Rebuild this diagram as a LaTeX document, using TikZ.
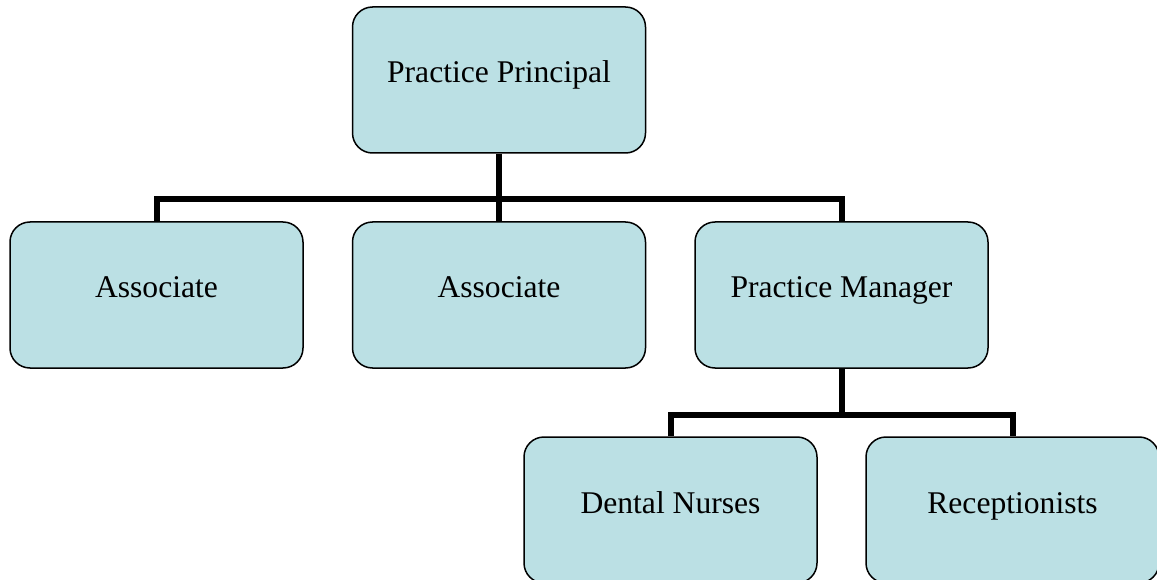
\documentclass[tikz,border=0pt]{standalone}
\usepackage{fontspec}
\setmainfont{Liberation Serif}
\definecolor{boxfill}{RGB}{187,224,228}
\begin{document}
\begin{tikzpicture}[x=1pt,y=-1pt,
  orgbox/.style={draw=black, line width=1.5pt, fill=boxfill, rounded corners=20pt,
    minimum width=293pt, minimum height=146pt, inner sep=0pt,
    text height=22pt, text depth=16pt, font=\fontsize{31.6pt}{36pt}\selectfont},
  conn/.style={line width=6pt, draw=black}]
\useasboundingbox (0,0) rectangle (1157,580);
\clip (0,0) rectangle (1157,580);
\node[orgbox] (pp) at (499,80) {Practice Principal};
\node[orgbox] (a1) at (156.5,295) {Associate};
\node[orgbox] (a2) at (499,295) {Associate};
\node[orgbox] (pm) at (841.5,295) {Practice Manager};
\node[orgbox] (dn) at (670.5,510) {Dental Nurses};
\node[orgbox] (rc) at (1012.5,510) {Receptionists};
\coordinate (bus1) at (499,199);
\coordinate (bus2) at (841.5,415);
\begin{scope}[on background layer/.style={}]
\draw[conn] (pp.south) -- (pp.south |- bus1);
\draw[conn] (pp.south |- bus1) -- (a2.north);
\draw[conn] (a1.north) |- (bus1) -| (pm.north);
\draw[conn] (pm.south) -- (bus2);
\draw[conn] (dn.north) |- (bus2) -| (rc.north);
\end{scope}
\end{tikzpicture}
\end{document}
